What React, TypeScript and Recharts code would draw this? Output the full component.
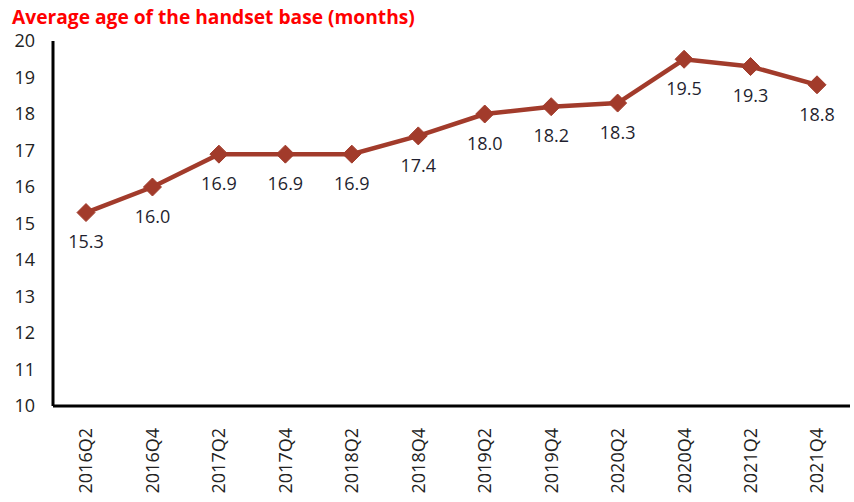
import React from "react";
import { LineChart, Line, XAxis, YAxis, LabelList } from "recharts";

const categories = ["2016Q2", "2016Q4", "2017Q2", "2017Q4", "2018Q2", "2018Q4", "2019Q2", "2019Q4", "2020Q2", "2020Q4", "2021Q2", "2021Q4"];
const ages = [15.3, 16.0, 16.9, 16.9, 16.9, 17.4, 18.0, 18.2, 18.3, 19.5, 19.3, 18.8];
const yTicks = [10, 11, 12, 13, 14, 15, 16, 17, 18, 19, 20];

const data = categories.map((c, i) => ({ cat: c, age: ages[i] }));

const FONT = "'Open Sans', 'Noto Sans', sans-serif";
const LINE_COLOR = "#A23B2B";

const Diamond = (props: any) => {
  const { cx, cy } = props;
  if (cx == null || cy == null) return null;
  const r = 9;
  return (
    <polygon
      points={`${cx},${cy - r} ${cx + r},${cy} ${cx},${cy + r} ${cx - r},${cy}`}
      fill={LINE_COLOR}
      stroke={LINE_COLOR}
      strokeWidth={1}
      strokeLinejoin="round"
    />
  );
};

const XTick = (props: any) => {
  const { x, y, payload } = props;
  return (
    <text
      x={0}
      y={0}
      transform={`translate(${x},${y + 14}) rotate(-90)`}
      textAnchor="end"
      dy="0.36em"
      fontSize={18}
      fontFamily={FONT}
      fill="#222"
    >
      {payload.value}
    </text>
  );
};

export default function App() {
  return (
    <div style={{ position: "absolute", left: 0, top: 0, width: 854, height: 502, background: "#fff" }}>
      <div
        style={{
          position: "absolute",
          left: 12,
          top: 4,
          fontFamily: FONT,
          fontWeight: 700,
          fontSize: 19.2,
          color: "#FF0000",
          whiteSpace: "nowrap",
          lineHeight: "26px",
        }}
      >
        Average age of the handset base (months)
      </div>
      <LineChart
        width={854}
        height={502}
        data={data}
        margin={{ top: 41, right: 4, bottom: 0, left: 0 }}
      >
        <XAxis
          dataKey="cat"
          axisLine={{ stroke: "#000", strokeWidth: 3 }}
          tickLine={false}
          tick={<XTick />}
          interval={0}
          height={96}
          padding={{ left: 33, right: 33 }}
        />
        <YAxis
          domain={[10, 20]}
          ticks={yTicks}
          interval={0}
          width={53}
          axisLine={{ stroke: "#000", strokeWidth: 3 }}
          tickLine={false}
          tickSize={0}
          tickMargin={18}
          tick={{ fontSize: 18, fontFamily: FONT, fill: "#222" }}
        />
        <Line
          type="linear"
          dataKey="age"
          stroke={LINE_COLOR}
          strokeWidth={4.5}
          dot={<Diamond />}
          activeDot={false}
          isAnimationActive={false}
        >
          <LabelList
            dataKey="age"
            position="bottom"
            offset={23}
            formatter={(v: any) => Number(v).toFixed(1)}
            style={{ fontSize: 18, fontFamily: FONT, fill: "#1f1f2f" }}
          />
        </Line>
      </LineChart>
    </div>
  );
}
